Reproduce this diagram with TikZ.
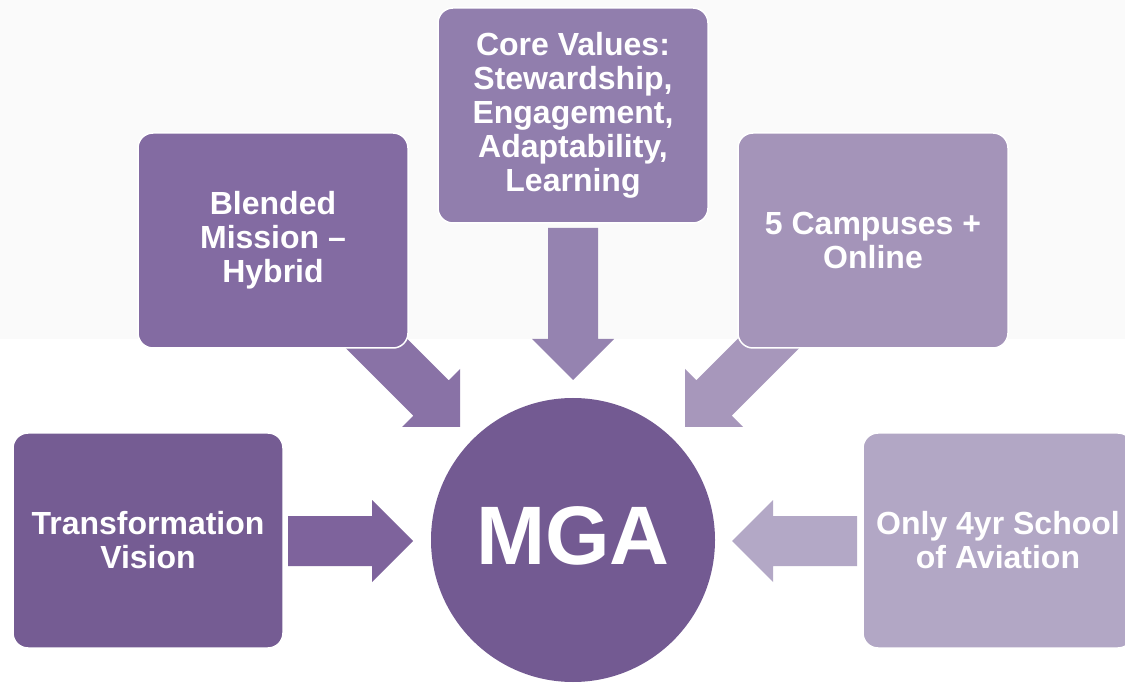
\documentclass[tikz,border=0pt]{standalone}
\usepackage{fontspec}
\setmainfont{Liberation Sans}
\definecolor{cTV}{HTML}{755C93}
\definecolor{cBM}{HTML}{836BA2}
\definecolor{cCV}{HTML}{917EAD}
\definecolor{cCP}{HTML}{A494B9}
\definecolor{cOA}{HTML}{B2A7C5}
\definecolor{cMG}{HTML}{735A92}
\definecolor{aTV}{HTML}{7E639C}
\definecolor{aBM}{HTML}{8972A6}
\definecolor{aCV}{HTML}{9583B0}
\definecolor{aCP}{HTML}{A797BB}
\definecolor{aOA}{HTML}{B3A8C6}
\definecolor{bgtex}{HTML}{FAFAFA}
\tikzset{
  box/.style={rectangle, rounded corners=15pt, draw=white, line width=1.5pt,
    minimum width=270pt, minimum height=215pt, align=center, text=white,
    font=\fontsize{32}{34}\selectfont\bfseries, inner sep=0pt},
  hub/.style={circle, fill=cMG, minimum size=284pt, inner sep=0pt},
  bigtext/.style={text=white, font=\fontsize{83}{90}\selectfont\bfseries, inner sep=0pt}
}
\begin{document}
\begin{tikzpicture}[x=1pt,y=-1pt]
\useasboundingbox (0,0) rectangle (1125,684);
\clip (0,0) rectangle (1125,684);
\fill[white] (0,0) rectangle (1125,684);
\fill[bgtex] (0,0) rectangle (1125,339);
% block arrows
\fill[aTV] (288,516) -- (372,516) -- (372,500) -- (413,541) -- (372,582) -- (372,566) -- (288,566) -- cycle;
\fill[aOA] (857,516) -- (773,516) -- (773,500) -- (732,541) -- (773,582) -- (773,566) -- (857,566) -- cycle;
\fill[aCV] (548,228) -- (598,228) -- (598,339) -- (614,339) -- (573,380) -- (532,339) -- (548,339) -- cycle;
\fill[aBM] (358.7,290.3) -- (448.7,380.3) -- (460,369) -- (460,427) -- (402,427) -- (413.3,415.7) -- (323.3,325.7) -- cycle;
\fill[aCP] (786.3,290.3) -- (696.3,380.3) -- (685,369) -- (685,427) -- (743,427) -- (731.7,415.7) -- (821.7,325.7) -- cycle;
% boxes
\node[box, fill=cTV] (tv) at (148,540.5) {Transformation\\Vision};
\node[box, fill=cBM] (bm) at (273,240.5) {Blended\\Mission --\\Hybrid};
\node[box, fill=cCV] (cv) at (573,115.5) {Core Values:\\Stewardship,\\Engagement,\\Adaptability,\\Learning};
\node[box, fill=cCP] (cp) at (873,240.5) {5 Campuses +\\Online};
\node[box, fill=cOA] (oa) at (998,540.5) {Only 4yr School\\of Aviation};
% hub
\node[hub] (mga) at (573,540) {};
\node[bigtext] (mgatext) at (573,536) {MGA};
\end{tikzpicture}
\end{document}
